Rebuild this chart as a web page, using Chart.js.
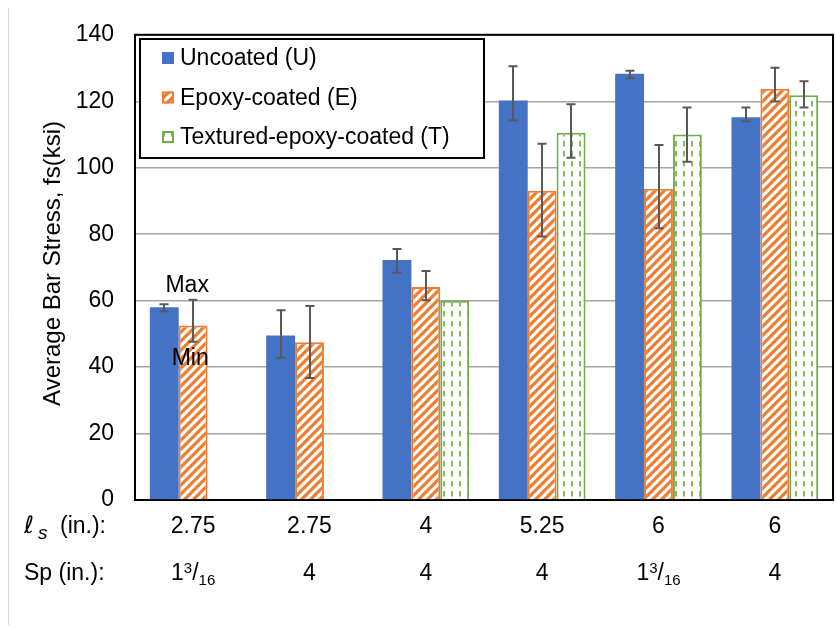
<!DOCTYPE html>
<html>
<head>
<meta charset="utf-8">
<script src="https://cdn.jsdelivr.net/npm/chart.js@4/dist/chart.umd.min.js"></script>
<style>
  html, body { margin: 0; padding: 0; background: #fff; }
  canvas { display: block; }
</style>
</head>
<body>
<canvas id="chart" width="836" height="629"></canvas>
<script>
// Splice groups: lap length and spacing for each group
const lapLengths = ['2.75', '2.75', '4', '5.25', '6', '6'];
const spacings = ['1 3/16', '4', '4', '4', '1 3/16', '4'];

// Average bar stress (ksi) with max / min of each group
const uncoated    = [58.0, 49.5, 72.2, 120.2, 128.3, 115.2];
const uncoatedMax = [58.9, 57.1, 75.5, 130.5, 129.2, 118.1];
const uncoatedMin = [56.8, 42.8, 68.4, 114.3, 126.9, 114.0];

const epoxy    = [52.5, 47.5, 64.1, 93.1, 93.7, 123.8];
const epoxyMax = [60.3, 58.4, 68.9, 107.2, 106.8, 130.1];
const epoxyMin = [47.6, 36.7, 60.1, 79.3, 81.8, 119.9];

const textured    = [null, null, 60.0, 110.5, 110.0, 121.8];
const texturedMax = [null, null, null, 119.1, 118.1, 126.0];
const texturedMin = [null, null, null, 103.0, 101.8, 118.1];

const seriesNames = ['Uncoated (U)', 'Epoxy-coated (E)', 'Textured-epoxy-coated (T)'];
const yMin = 0, yMax = 140, yStep = 20;

const BLUE = '#4472C4', ORANGE = '#ED7D31', GREEN = '#70AD47';
const FONT = '"Liberation Sans", Arial, sans-serif';

// Fill patterns: diagonal hatch for epoxy, dashed verticals for textured
function hatchPattern() {
  const s = 9, c = document.createElement('canvas');
  c.width = s; c.height = s;
  const g = c.getContext('2d');
  g.fillStyle = '#fff'; g.fillRect(0, 0, s, s);
  g.strokeStyle = ORANGE; g.lineWidth = 3.2;
  g.beginPath();
  for (const o of [-s, 0, s]) { g.moveTo(o - 1, s + 1); g.lineTo(o + s + 1, -1); }
  g.stroke();
  return g.createPattern(c, 'repeat');
}
function dashPattern() {
  const w = 8, h = 10, c = document.createElement('canvas');
  c.width = w; c.height = h;
  const g = c.getContext('2d');
  g.fillStyle = '#fff'; g.fillRect(0, 0, w, h);
  g.strokeStyle = '#84BC5E'; g.lineWidth = 2;
  g.beginPath(); g.moveTo(4, 1); g.lineTo(4, 6.5); g.stroke();
  return g.createPattern(c, 'repeat');
}
const hatch = hatchPattern();
const dashes = dashPattern();

// Plot frame drawn over the grid
const frame = {
  id: 'frame',
  beforeDatasetsDraw(chart) {
    const { ctx, chartArea: a } = chart;
    ctx.save();
    ctx.strokeStyle = '#000'; ctx.lineWidth = 2;
    ctx.strokeRect(a.left, a.top, a.right - a.left, a.bottom - a.top);
    ctx.restore();
  }
};

// Max / min whiskers for every bar
const errorBars = {
  id: 'errorBars',
  afterDatasetsDraw(chart) {
    const { ctx } = chart, y = chart.scales.y;
    ctx.save();
    ctx.strokeStyle = '#595959'; ctx.lineWidth = 2;
    chart.data.datasets.forEach((ds, di) => {
      const meta = chart.getDatasetMeta(di);
      ds.errMax.forEach((hi, i) => {
        const lo = ds.errMin[i];
        if (hi == null || lo == null) return;
        const x = Math.round(meta.data[i].x);
        const yt = y.getPixelForValue(hi), yb = y.getPixelForValue(lo);
        ctx.beginPath();
        ctx.moveTo(x, yt); ctx.lineTo(x, yb);
        ctx.moveTo(x - 4.5, yt); ctx.lineTo(x + 4.5, yt);
        ctx.moveTo(x - 4.5, yb); ctx.lineTo(x + 4.5, yb);
        ctx.stroke();
      });
    });
    // Max / Min callouts on the first epoxy whisker
    const m = chart.getDatasetMeta(1).data[0];
    ctx.fillStyle = '#000';
    ctx.font = '23px ' + FONT;
    ctx.textAlign = 'center'; ctx.textBaseline = 'middle';
    ctx.fillText('Max', m.x - 6, y.getPixelForValue(epoxyMax[0]) - 14);
    ctx.fillText('Min', m.x - 3, y.getPixelForValue(epoxyMin[0]) + 17);
    ctx.restore();
  }
};

// Legend box, axis title and the two rows of group labels
const annotations = {
  id: 'annotations',
  afterDraw(chart) {
    const { ctx, chartArea: a } = chart;
    const xs = chart.scales.x;
    ctx.save();

    // left edge rule of the figure
    ctx.strokeStyle = '#D9D9D9'; ctx.lineWidth = 1;
    ctx.beginPath(); ctx.moveTo(8.5, 8); ctx.lineTo(8.5, 625); ctx.stroke();

    // legend
    const lx = 140, ly = 39, lw = 344, lh = 119;
    ctx.fillStyle = '#fff'; ctx.fillRect(lx, ly, lw, lh);
    ctx.strokeStyle = '#000'; ctx.lineWidth = 2;
    ctx.strokeRect(lx, ly, lw, lh);
    ctx.font = '23px ' + FONT;
    ctx.textAlign = 'left'; ctx.textBaseline = 'middle';
    chart.data.datasets.forEach((ds, i) => {
      const cy = ly + 19 + i * 39.5;
      ctx.fillStyle = ds.backgroundColor;
      ctx.fillRect(162, cy - 6, 12, 12);
      if (ds.borderWidth) {
        ctx.strokeStyle = ds.borderColor; ctx.lineWidth = 2;
        ctx.strokeRect(163, cy - 5, 10, 10);
      }
      ctx.fillStyle = '#000';
      ctx.fillText(ds.label, 180, cy + 1);
    });

    // y axis title
    ctx.save();
    ctx.translate(60, (a.top + a.bottom) / 2 - 4);
    ctx.rotate(-Math.PI / 2);
    ctx.font = '24px ' + FONT;
    ctx.textAlign = 'center'; ctx.textBaseline = 'alphabetic';
    ctx.fillStyle = '#000';
    ctx.fillText('Average Bar Stress, fs(ksi)', 0, 0);
    ctx.restore();

    // row captions
    const b1 = a.bottom + 33, b2 = a.bottom + 80;
    ctx.fillStyle = '#000';
    ctx.textBaseline = 'alphabetic'; ctx.textAlign = 'left';
    ctx.font = 'italic 24px "DejaVu Sans", ' + FONT;
    ctx.fillText('\u2113', 24, b1);
    ctx.font = 'italic 19px ' + FONT;
    ctx.fillText('s', 38, b1 + 6);
    ctx.font = '23px ' + FONT;
    ctx.fillText('(in.):', 60, b1);
    ctx.fillText('Sp (in.):', 24, b2);

    // group values
    ctx.textAlign = 'center';
    lapLengths.forEach((v, i) => {
      ctx.font = '23px ' + FONT;
      ctx.fillText(v, xs.getPixelForValue(i), b1);
    });
    spacings.forEach((v, i) => {
      const cx = xs.getPixelForValue(i);
      const parts = v.split(' ');
      if (parts.length === 1) {
        ctx.font = '23px ' + FONT; ctx.textAlign = 'center';
        ctx.fillText(v, cx, b2);
        return;
      }
      const [num, den] = parts[1].split('/');
      const big = '23px ' + FONT, small = '15px ' + FONT;
      ctx.font = big; const wWhole = ctx.measureText(parts[0]).width, wSl = ctx.measureText('/').width;
      ctx.font = small; const wNum = ctx.measureText(num).width, wDen = ctx.measureText(den).width;
      let x = cx - (wWhole + wNum + wSl + wDen) / 2;
      ctx.textAlign = 'left';
      ctx.font = big; ctx.fillText(parts[0], x, b2); x += wWhole;
      ctx.font = small; ctx.fillText(num, x, b2 - 7); x += wNum;
      ctx.font = big; ctx.fillText('/', x, b2); x += wSl;
      ctx.font = small; ctx.fillText(den, x, b2 + 5);
      ctx.textAlign = 'center';
    });
    ctx.restore();
  }
};

new Chart(document.getElementById('chart'), {
  type: 'bar',
  data: {
    labels: lapLengths,
    datasets: [
      { label: seriesNames[0], data: uncoated, errMax: uncoatedMax, errMin: uncoatedMin,
        backgroundColor: BLUE, borderWidth: 0 },
      { label: seriesNames[1], data: epoxy, errMax: epoxyMax, errMin: epoxyMin,
        backgroundColor: hatch, borderColor: ORANGE, borderWidth: 2 },
      { label: seriesNames[2], data: textured, errMax: texturedMax, errMin: texturedMin,
        backgroundColor: dashes, borderColor: GREEN, borderWidth: 2 }
    ]
  },
  options: {
    responsive: false,
    animation: false,
    devicePixelRatio: 1,
    layout: { padding: { left: 0, right: 3, top: 31, bottom: 129 } },
    plugins: { legend: { display: false }, tooltip: { enabled: false } },
    datasets: { bar: { categoryPercentage: 0.745, barPercentage: 1.0 } },
    scales: {
      x: {
        ticks: { display: false },
        grid: { display: false },
        border: { display: false },
        afterFit(s) { s.height = 0; }
      },
      y: {
        min: yMin, max: yMax,
        ticks: { stepSize: yStep, padding: 21, color: '#000', font: { family: FONT, size: 23 } },
        grid: { color: '#A6A6A6', lineWidth: 1.5, drawTicks: false },
        border: { display: false },
        afterFit(s) { s.width = 135; }
      }
    }
  },
  plugins: [frame, errorBars, annotations]
});
</script>
</body>
</html>
